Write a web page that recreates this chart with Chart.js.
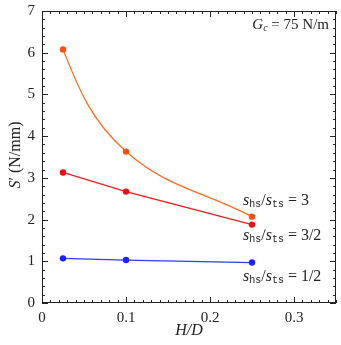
<!DOCTYPE html>
<html>
<head>
<meta charset="utf-8">
<script src="https://cdn.jsdelivr.net/npm/chart.js@4.4.0/dist/chart.umd.min.js"></script>
<style>
  html, body { margin: 0; padding: 0; background: #fff; }
  #wrap { width: 341px; height: 345px; }
</style>
</head>
<body>
<div id="wrap"><canvas id="c" width="341" height="345"></canvas></div>
<script>
// dados
const hd = [0.025, 0.1, 0.25];
const ratio3 = [6.08, 3.63, 2.07];
const ratio32 = [3.13, 2.67, 1.88];
const ratio12 = [1.07, 1.03, 0.97];
const xTicks = [0, 0.1, 0.2, 0.3];
const yTicks = [0, 1, 2, 3, 4, 5, 6, 7];
const seriesLabels = ['3', '3/2', '1/2'];

const serif = '"Liberation Serif", "DejaVu Serif", serif';
const mono = '"Liberation Mono", "DejaVu Sans Mono", monospace';

function pts(ys) {
    return hd.map((x, i) => ({ x: x, y: ys[i] }));
}

// desenha texto com partes em fontes diferentes (subscritos etc)
function richText(ctx, parts, x, y, align) {
    ctx.textAlign = 'left';
    let total = 0;
    parts.forEach(p => { ctx.font = p.font; total += ctx.measureText(p.t).width; });
    let cx = x;
    if (align === 'right') cx = x - total;
    if (align === 'center') cx = x - total / 2;
    parts.forEach(p => {
        ctx.font = p.font;
        ctx.fillText(p.t, cx, y + (p.dy || 0));
        cx += ctx.measureText(p.t).width;
    });
}

function ratioParts(val) {
    return [
        { t: 's', font: 'italic 16px ' + serif },
        { t: 'hs', font: '10px ' + mono, dy: 3 },
        { t: '/', font: '16px ' + serif },
        { t: 's', font: 'italic 16px ' + serif },
        { t: 'ts', font: '10px ' + mono, dy: 3 },
        { t: ' = ' + val, font: '16px ' + serif }
    ];
}

// curva laranja: começa mais inclinada, como no original
const curvePlugin = {
    id: 'curveStart',
    beforeDatasetDraw: (chart, args) => {
        if (args.index !== 0) return;
        const line = args.meta.dataset;
        line.updateControlPoints(chart.chartArea, 'x');
        const a = args.meta.data[0], b = args.meta.data[1];
        a.cp2x = a.x + 0.25 * (b.x - a.x);
        a.cp2y = a.y + 0.39 * (b.y - a.y);
    }
};

const framePlugin = {
    id: 'frame',
    afterDraw: (chart) => {
        const ctx = chart.ctx;
        const { left, right, top, bottom } = chart.chartArea;
        const xs = chart.scales.x, ys = chart.scales.y;
        ctx.save();
        ctx.strokeStyle = '#222';
        ctx.lineWidth = 1;
        ctx.strokeRect(left + 0.5, top + 0.5, right - left - 1, bottom - top - 1);
        ctx.beginPath();
        // ticks menores e maiores no eixo x (para dentro, em baixo e em cima)
        for (let i = 0; i <= 35; i++) {
            const v = i / 100;
            const px = Math.round(xs.getPixelForValue(v)) + 0.5;
            const len = (i % 10 === 0) ? 6 : 3;
            ctx.moveTo(px, bottom); ctx.lineTo(px, bottom - len);
            ctx.moveTo(px, top); ctx.lineTo(px, top + len);
        }
        // eixo y, passo de 0.2
        for (let i = 0; i <= 35; i++) {
            const v = i / 5;
            const py = Math.round(ys.getPixelForValue(v)) + 0.5;
            const len = (i % 5 === 0) ? 6 : 3;
            ctx.moveTo(left, py); ctx.lineTo(left + len, py);
            ctx.moveTo(right, py); ctx.lineTo(right - len, py);
        }
        ctx.stroke();

        ctx.fillStyle = '#222';
        ctx.textBaseline = 'middle';
        // rótulos das séries
        const lx = 243;
        richText(ctx, ratioParts(seriesLabels[0]), lx, 201, 'left');
        richText(ctx, ratioParts(seriesLabels[1]), lx, 236, 'left');
        richText(ctx, ratioParts(seriesLabels[2]), lx, 277, 'left');

        // G_c
        richText(ctx, [
            { t: 'G', font: 'italic 15px ' + serif },
            { t: 'c', font: 'italic 10px ' + serif, dy: 3 },
            { t: ' = 75 N/m', font: '15px ' + serif }
        ], right - 7, 25, 'right');

        // títulos dos eixos
        richText(ctx, [{ t: 'H/D', font: 'italic 16px ' + serif }], (left + right) / 2, 331, 'center');
        ctx.translate(16, 155);
        ctx.rotate(-Math.PI / 2);
        richText(ctx, [
            { t: 'S', font: 'italic 16px ' + serif },
            { t: '\u2032 (N/mm)', font: '16px ' + serif }
        ], 0, 0, 'center');
        ctx.restore();
    }
};

new Chart(document.getElementById('c'), {
    type: 'line',
    data: {
        datasets: [
            {
                data: pts(ratio3),
                borderColor: '#ff6a1f',
                backgroundColor: '#ff4d0d',
                borderWidth: 1.3,
                pointRadius: 3.2,
                pointBorderWidth: 0,
                tension: 0.4
            },
            {
                data: pts(ratio32),
                borderColor: '#ec1c1c',
                backgroundColor: '#ec1010',
                borderWidth: 1.3,
                pointRadius: 3.2,
                pointBorderWidth: 0,
                tension: 0
            },
            {
                data: pts(ratio12),
                borderColor: '#2a3cff',
                backgroundColor: '#1a22ff',
                borderWidth: 1.3,
                pointRadius: 3.2,
                pointBorderWidth: 0,
                tension: 0
            }
        ]
    },
    options: {
        responsive: false,
        animation: false,
        layout: { padding: { top: 11, right: 5, left: 0, bottom: 0 } },
        plugins: {
            legend: { display: false },
            tooltip: { enabled: false }
        },
        scales: {
            x: {
                type: 'linear',
                min: 0,
                max: 0.35,
                grid: { display: false, drawTicks: false },
                border: { display: false },
                afterBuildTicks: (s) => { s.ticks = xTicks.map(v => ({ value: v })); },
                afterFit: (s) => { s.height = 42; s.paddingLeft = 0; s.paddingRight = 0; },
                ticks: {
                    color: '#222',
                    font: { family: serif, size: 15 },
                    padding: 6,
                    maxRotation: 0,
                    callback: (v) => String(v)
                }
            },
            y: {
                min: 0,
                max: 7,
                grid: { display: false, drawTicks: false },
                border: { display: false },
                afterBuildTicks: (s) => { s.ticks = yTicks.map(v => ({ value: v })); },
                afterFit: (s) => { s.width = 42; s.paddingTop = 0; s.paddingBottom = 0; },
                ticks: {
                    color: '#222',
                    font: { family: serif, size: 15 },
                    padding: 7
                }
            }
        }
    },
    plugins: [curvePlugin, framePlugin]
});
</script>
</body>
</html>
